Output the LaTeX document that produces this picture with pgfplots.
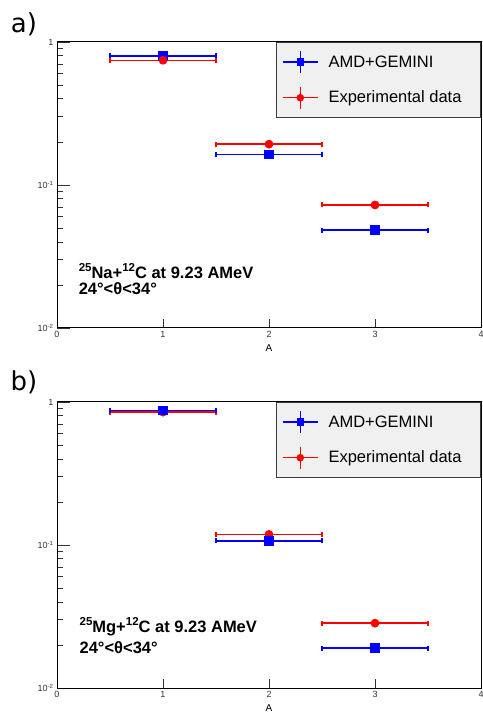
\documentclass[border=0pt]{standalone}
\usepackage{pgfplots}
\pgfplotsset{compat=1.18}
\usepackage{fontspec}
\setmainfont{Liberation Sans}
\newfontfamily\labfont{DejaVu Sans}

\definecolor{rblue}{RGB}{0,0,255}
\definecolor{rred}{RGB}{255,0,0}
\definecolor{legfill}{RGB}{240,240,240}
\definecolor{legdraw}{RGB}{60,60,60}

\newcommand{\sups}[1]{\raisebox{6.5pt}{\fontsize{11.5}{12}\selectfont #1}}
\tikzset{annot/.style={anchor=west, font=\bfseries\fontsize{16.5}{19}\selectfont}}

\pgfplotsset{
  rootpanel/.style={
    scale only axis,
    width=424pt, height=286pt,
    xmin=0, xmax=4, ymin=0.01, ymax=1,
    axis line style={line width=1pt},
    tick align=inside,
    xtick pos=bottom, ytick pos=left,
    xtick={0,1,2,3,4},
    xticklabels={0,1,2,3,4},
    ytick={0.01,0.1,1},
    yticklabels={10\textsuperscript{-2},10\textsuperscript{-1},1},
    minor xtick={},
    ticklabel style={font=\fontsize{9}{10}\selectfont, color=black!80},
    xtick style={/pgfplots/major tick length=8.6pt, line width=0.8pt, color=black!80},
    ytick style={/pgfplots/major tick length=12.7pt, /pgfplots/minor tick length=6.4pt, line width=0.8pt, color=black!80},
    xlabel={A},
    xlabel style={font=\fontsize{10}{11}\selectfont, at={(axis description cs:0.5,-0.07)}, anchor=center},
    legend style={
      at={(1,1)}, anchor=north east,
      fill=legfill, draw=legdraw, line width=1pt,
      inner xsep=6pt, inner ysep=8pt,
      row sep=12pt,
      nodes={inner sep=2pt},
      font=\fontsize{16.5}{19}\selectfont,
      /tikz/every odd column/.append style={column sep=8pt},
    },
    legend cell align=left,
    legend image code/.code={%
      \draw[##1, mark=none] (0pt,0pt) -- (35pt,0pt);
      \draw[##1, mark=none] (17.5pt,-11pt) -- (17.5pt,11pt);
      \draw[##1, mark size=3pt] plot coordinates {(17.5pt,0pt)};
    },
  },
  amd/.style={
    rblue, line width=1.5pt, only marks, mark=square*, mark size=4pt,
    error bars/x dir=both, error bars/x explicit,
    error bars/error bar style={line width=1.5pt, rblue},
    error bars/error mark options={rotate=90, mark size=2.5pt, line width=1.5pt, rblue},
  },
  expdata/.style={
    rred, line width=1.5pt, only marks, mark=*, mark size=3.6pt,
    error bars/x dir=both, error bars/x explicit,
    error bars/error bar style={line width=1.5pt, rred},
    error bars/error mark options={rotate=90, mark size=2.5pt, line width=1.5pt, rred},
  },
}

\begin{document}
\begin{tikzpicture}
\path (0,0) rectangle (482pt,712pt);

% panel a
\node[font=\labfont\fontsize{26}{28}\selectfont] at (24pt,688pt) {a)};
\begin{semilogyaxis}[rootpanel, at={(57pt,384pt)}, anchor=south west]
  \addplot[amd] coordinates {
    (1,0.80) +- (0.5,0)
    (2,0.163) +- (0.5,0)
    (3,0.0484) +- (0.5,0)
  };
  \addlegendentry{AMD+GEMINI}
  \addplot[expdata] coordinates {
    (1,0.745) +- (0.5,0)
    (2,0.193) +- (0.5,0)
    (3,0.0725) +- (0.5,0)
  };
  \addlegendentry{Experimental data\hspace*{11pt}}
  \node[annot] at (rel axis cs:0.043,0.199) {\sups{25}Na+\sups{12}C at 9.23 AMeV};
  \node[annot] at (rel axis cs:0.043,0.136) {24°<θ<34°};
\end{semilogyaxis}

% panel b
\node[font=\labfont\fontsize{26}{28}\selectfont] at (24pt,330pt) {b)};
\begin{semilogyaxis}[rootpanel, at={(57pt,24pt)}, anchor=south west, reverse legend]
  \addplot[expdata] coordinates {
    (1,0.85) +- (0.5,0)
    (2,0.1186) +- (0.5,0)
    (3,0.0284) +- (0.5,0)
  };
  \addlegendentry{Experimental data\hspace*{11pt}}
  \addplot[amd] coordinates {
    (1,0.875) +- (0.5,0)
    (2,0.107) +- (0.5,0)
    (3,0.019) +- (0.5,0)
  };
  \addlegendentry{AMD+GEMINI}
  \node[annot] at (rel axis cs:0.045,0.214) {\sups{25}Mg+\sups{12}C at 9.23 AMeV};
  \node[annot] at (rel axis cs:0.045,0.142) {24°<θ<34°};
\end{semilogyaxis}

\pgfresetboundingbox
\useasboundingbox (0,0) rectangle (482pt,712pt);
\end{tikzpicture}
\end{document}
